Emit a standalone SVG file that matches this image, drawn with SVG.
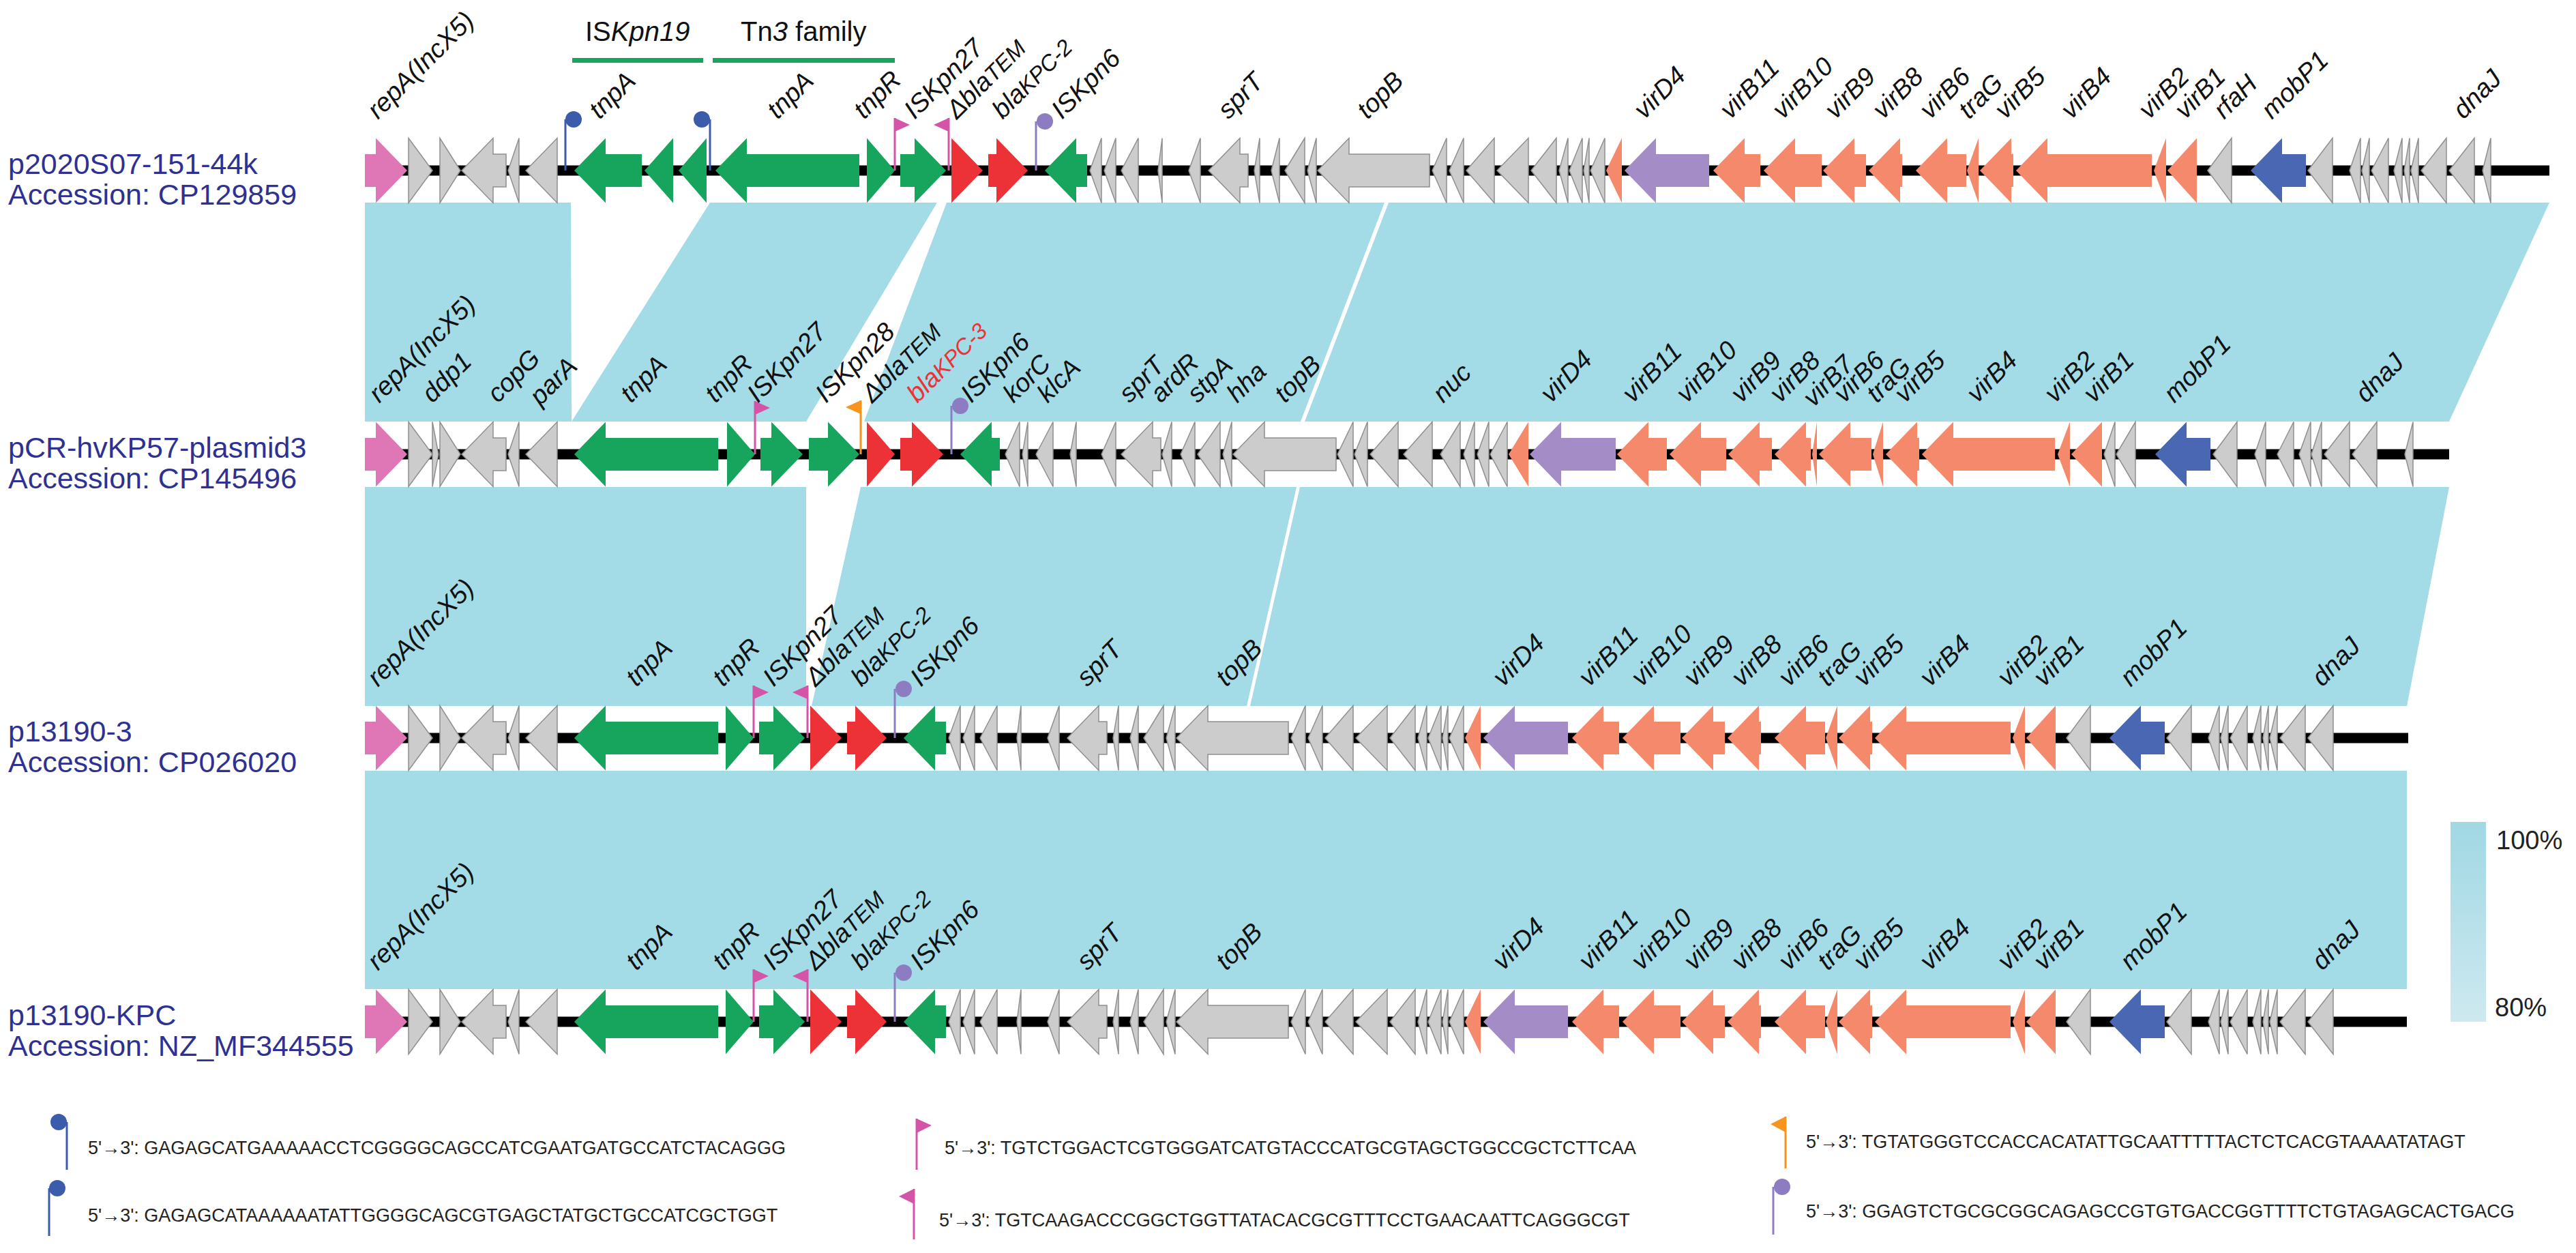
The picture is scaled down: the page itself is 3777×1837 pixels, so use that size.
<svg xmlns="http://www.w3.org/2000/svg" xmlns:xlink="http://www.w3.org/1999/xlink" width="3777" height="1837" viewBox="0 0 3777 1837">
<defs>
<style>
.g{fill:#cccccc;stroke:#8f8f8f;stroke-width:1.5}
.gr{fill:#17a55d}
.rd{fill:#ec3237}
.or{fill:#f5896b}
.pu{fill:#a48dc6}
.bl{fill:#4a67b3}
.pk{fill:#df77b6}
.bb{stroke:#000;stroke-width:15}
.band{fill:#a3dbe7}
.lab{font-family:"Liberation Sans",Arial,sans-serif;font-size:38px;font-style:italic;fill:#111}
.sub{font-size:33px}
.name{font-family:"Liberation Sans",Arial,sans-serif;font-size:43px;fill:#2e3192}
.seq{font-family:"Liberation Sans",Arial,sans-serif;font-size:27px;fill:#222}
.top{font-family:"Liberation Sans",Arial,sans-serif;font-size:40px;fill:#111}
.pct{font-family:"Liberation Sans",Arial,sans-serif;font-size:38px;fill:#222}
.fpk{stroke:#d455a8;stroke-width:3;fill:none}
.fbl{stroke:#3b5bab;stroke-width:3;fill:none}
.for{stroke:#f7941d;stroke-width:3;fill:none}
.fpu{stroke:#8e7cc3;stroke-width:3;fill:none}
</style>
<linearGradient id="idgrad" x1="0" y1="0" x2="0" y2="1">
<stop offset="0" stop-color="#a0d8e4"/>
<stop offset="1" stop-color="#cee9f0"/>
</linearGradient>
<g id="left">
<path class="pk" d="M597 0L551-47.5V-24H535V24H551V47.5Z"/>
<path class="g" d="M634 0L599-47.5V47.5Z M675 0L645-47.5V47.5Z M677 0L723-47.5V-24H742V24H723V47.5Z M745 0L761-47.5V47.5Z M771 0L817-47.5V47.5Z"/>
</g>
<g id="core">
<path class="gr" d="M1049 0L1095-47.5V-24H1260V24H1095V47.5Z M1312 0L1271-47.5V47.5Z M1387 0L1341-47.5V-24H1320V24H1341V47.5Z M1532 0L1578-47.5V-24H1594V24H1578V47.5Z"/>
<path class="rd" d="M1441 0L1395-47.5V47.5Z M1507 0L1461-47.5V-24H1449V24H1461V47.5Z"/>
<path class="g" d="M1598 0L1615-47.5V47.5Z M1619 0L1636-47.5V47.5Z M1644 0L1669-47.5V47.5Z M1698 0L1704-47.5V47.5Z M1743 0L1760-47.5V47.5Z M1772 0L1818-47.5V-24H1830V24H1818V47.5Z M1839 0L1847-47.5V47.5Z M1864 0L1876-47.5V47.5Z M1884 0L1913-47.5V47.5Z M1917 0L1930-47.5V47.5Z M1932 0L1978-47.5V-24H2096V24H1978V47.5Z M2100 0L2121-47.5V47.5Z M2125 0L2146-47.5V47.5Z M2150 0L2191-47.5V47.5Z M2195 0L2241-47.5V47.5Z M2245 0L2282-47.5V47.5Z M2286 0L2299-47.5V47.5Z M2301 0L2320-47.5V47.5Z M2322 0L2330-47.5V47.5Z M2332 0L2353-47.5V47.5Z M3237 0L3272-47.5V47.5Z M3384 0L3420-47.5V47.5Z M3445 0L3461-47.5V47.5Z M3463 0L3474-47.5V47.5Z M3477 0L3502-47.5V47.5Z M3510 0L3522-47.5V47.5Z M3525 0L3533-47.5V47.5Z M3535 0L3546-47.5V47.5Z M3550 0L3587-47.5V47.5Z M3591 0L3628-47.5V47.5Z"/>
<path class="or" d="M2355 0L2378-47.5V47.5Z M2512 0L2558-47.5V-24H2581V24H2558V47.5Z M2586 0L2632-47.5V-24H2671V24H2632V47.5Z M2673 0L2719-47.5V-24H2736V24H2719V47.5Z M2740 0L2786-47.5V-24H2789V24H2786V47.5Z M2809 0L2855-47.5V-24H2883V24H2855V47.5Z M2884 0L2901-47.5V47.5Z M2903 0L2949-47.5V-24H2952V24H2949V47.5Z M2956 0L3002-47.5V-24H3155V24H3002V47.5Z M3158 0L3176-47.5V47.5Z M3178 0L3221-47.5V47.5Z"/>
<path class="pu" d="M2382 0L2428-47.5V-24H2506V24H2428V47.5Z"/>
<path class="bl" d="M3300 0L3346-47.5V-24H3381V24H3346V47.5Z"/>
<path class="fpk" d="M1312 0V-77 M1391 0V-77"/>
<path d="M1312-77L1334-67L1312-57Z M1391-77L1369-67L1391-57Z" fill="#d455a8"/>
<path class="fpu" d="M1519 0V-72"/>
<circle cx="1532" cy="-72" r="12" fill="#8e7cc3"/>
</g>
<g id="lab34">
<text class="lab" transform="translate(554,-74) rotate(-45)">repA(IncX5)</text>
<text class="lab" transform="translate(933,-74) rotate(-45)">tnpA</text>
<text class="lab" transform="translate(1060,-74) rotate(-45)">tnpR</text>
<text class="lab" transform="translate(1134,-74) rotate(-45)">ISKpn27</text>
<text class="lab" transform="translate(1196,-74) rotate(-45)">Δbla<tspan class="sub">TEM</tspan></text>
<text class="lab" transform="translate(1263,-74) rotate(-45)">bla<tspan class="sub">KPC-2</tspan></text>
<text class="lab" transform="translate(1350,-74) rotate(-45)">ISKpn6</text>
<text class="lab" transform="translate(1594,-74) rotate(-45)">sprT</text>
<text class="lab" transform="translate(1798,-74) rotate(-45)">topB</text>
<text class="lab" transform="translate(2204,-74) rotate(-45)">virD4</text>
<text class="lab" transform="translate(2330,-74) rotate(-45)">virB11</text>
<text class="lab" transform="translate(2407,-74) rotate(-45)">virB10</text>
<text class="lab" transform="translate(2484,-74) rotate(-45)">virB9</text>
<text class="lab" transform="translate(2554,-74) rotate(-45)">virB8</text>
<text class="lab" transform="translate(2623,-74) rotate(-45)">virB6</text>
<text class="lab" transform="translate(2680,-74) rotate(-45)">traG</text>
<text class="lab" transform="translate(2733,-74) rotate(-45)">virB5</text>
<text class="lab" transform="translate(2830,-74) rotate(-45)">virB4</text>
<text class="lab" transform="translate(2944,-74) rotate(-45)">virB2</text>
<text class="lab" transform="translate(2997,-74) rotate(-45)">virB1</text>
<text class="lab" transform="translate(3124,-74) rotate(-45)">mobP1</text>
<text class="lab" transform="translate(3405,-74) rotate(-45)">dnaJ</text>
</g>
</defs>
<rect width="3777" height="1837" fill="#ffffff"/>

<g id="connectors">
<polygon class="band" points="535,297 837,297 838,618 535,618"/>
<polygon class="band" points="1041,297 1374,297 1182,618 838,618"/>
<polygon class="band" points="1388,297 2030,297 1907,618 1267,618"/>
<polygon class="band" points="2036,297 3738,297 3591,618 1913,618"/>
<polygon class="band" points="535,714 1182,714 1182,1035 535,1035"/>
<polygon class="band" points="1262,714 1901,714 1828,1035 1190,1035"/>
<polygon class="band" points="1906,714 3591,714 3529,1035 1833,1035"/>
<polygon class="band" points="535,1130 3529,1130 3529,1450 535,1450"/>
</g>

<g id="header">
<text class="top" x="858" y="60">IS<tspan font-style="italic">Kpn19</tspan></text>
<rect x="839" y="85" width="192" height="7" fill="#17a55d"/>
<text class="top" x="1086" y="60">Tn<tspan font-style="italic">3</tspan> family</text>
<rect x="1045" y="85" width="267" height="7" fill="#17a55d"/>
</g>

<g id="track1" transform="translate(0,250)">
<line class="bb" x1="535" y1="0" x2="3738" y2="0"/>
<use xlink:href="#left"/>
<path class="gr" d="M842 0L888-47.5V-24H941V24H888V47.5Z M945 0L987-47.5V47.5Z M995 0L1036-47.5V47.5Z"/>
<path class="fbl" d="M829 0V-75 M1041 0V-75"/>
<circle cx="841" cy="-75" r="12" fill="#3b5bab"/>
<circle cx="1029" cy="-75" r="12" fill="#3b5bab"/>
<use xlink:href="#core"/>
<path class="g" d="M3640 0L3652-47.5V47.5Z"/>
<text class="lab" transform="translate(554,-74) rotate(-45)">repA(IncX5)</text>
<text class="lab" transform="translate(879,-74) rotate(-45)">tnpA</text>
<text class="lab" transform="translate(1140,-74) rotate(-45)">tnpA</text>
<text class="lab" transform="translate(1267,-74) rotate(-45)">tnpR</text>
<text class="lab" transform="translate(1341,-74) rotate(-45)">ISKpn27</text>
<text class="lab" transform="translate(1403,-74) rotate(-45)">Δbla<tspan class="sub">TEM</tspan></text>
<text class="lab" transform="translate(1470,-74) rotate(-45)">bla<tspan class="sub">KPC-2</tspan></text>
<text class="lab" transform="translate(1557,-74) rotate(-45)">ISKpn6</text>
<text class="lab" transform="translate(1801,-74) rotate(-45)">sprT</text>
<text class="lab" transform="translate(2005,-74) rotate(-45)">topB</text>
<text class="lab" transform="translate(2411,-74) rotate(-45)">virD4</text>
<text class="lab" transform="translate(2537,-74) rotate(-45)">virB11</text>
<text class="lab" transform="translate(2614,-74) rotate(-45)">virB10</text>
<text class="lab" transform="translate(2691,-74) rotate(-45)">virB9</text>
<text class="lab" transform="translate(2761,-74) rotate(-45)">virB8</text>
<text class="lab" transform="translate(2830,-74) rotate(-45)">virB6</text>
<text class="lab" transform="translate(2887,-74) rotate(-45)">traG</text>
<text class="lab" transform="translate(2940,-74) rotate(-45)">virB5</text>
<text class="lab" transform="translate(3037,-74) rotate(-45)">virB4</text>
<text class="lab" transform="translate(3151,-74) rotate(-45)">virB2</text>
<text class="lab" transform="translate(3204,-74) rotate(-45)">virB1</text>
<text class="lab" transform="translate(3261,-74) rotate(-45)">rfaH</text>
<text class="lab" transform="translate(3331,-74) rotate(-45)">mobP1</text>
<text class="lab" transform="translate(3612,-74) rotate(-45)">dnaJ</text>
<text class="name" x="12" y="5">p2020S07-151-44k</text>
<text class="name" x="12" y="50">Accession: CP129859</text>
</g>

<g id="track2" transform="translate(0,666)">
<line class="bb" x1="535" y1="0" x2="3591" y2="0"/>
<use xlink:href="#left"/>
<path class="g" d="M643 0L634-47.5V47.5Z"/>
<path class="gr" d="M842 0L888-47.5V-24H1053V24H888V47.5Z M1107 0L1066-47.5V47.5Z M1177 0L1131-47.5V-24H1115V24H1131V47.5Z M1260 0L1214-47.5V-24H1186V24H1214V47.5Z M1408 0L1454-47.5V-24H1466V24H1454V47.5Z"/>
<path class="rd" d="M1312 0L1271-47.5V47.5Z M1383 0L1337-47.5V-24H1320V24H1337V47.5Z"/>
<path class="g" d="M1474 0L1495-47.5V47.5Z M1499 0L1507-47.5V47.5Z M1519 0L1544-47.5V47.5Z M1569 0L1578-47.5V47.5Z M1615 0L1636-47.5V47.5Z M1644 0L1690-47.5V-24H1702V24H1690V47.5Z M1704 0L1718-47.5V47.5Z M1731 0L1752-47.5V47.5Z M1756 0L1789-47.5V47.5Z M1793 0L1806-47.5V47.5Z M1808 0L1854-47.5V-24H1959V24H1854V47.5Z M1961 0L1984-47.5V47.5Z M1986 0L2005-47.5V47.5Z M2009 0L2050-47.5V47.5Z M2058 0L2100-47.5V47.5Z M2112 0L2141-47.5V47.5Z M2146 0L2162-47.5V47.5Z M2166 0L2183-47.5V47.5Z M2185 0L2210-47.5V47.5Z M3085 0L3101-47.5V47.5Z M3103 0L3131-47.5V47.5Z M3245 0L3280-47.5V47.5Z M3306 0L3322-47.5V47.5Z M3339 0L3363-47.5V47.5Z M3371 0L3388-47.5V47.5Z M3389 0L3404-47.5V47.5Z M3408 0L3445-47.5V47.5Z M3449 0L3485-47.5V47.5Z M3526 0L3538-47.5V47.5Z"/>
<path class="or" d="M2212 0L2241-47.5V47.5Z M2371 0L2417-47.5V-24H2444V24H2417V47.5Z M2448 0L2494-47.5V-24H2531V24H2494V47.5Z M2534 0L2580-47.5V-24H2598V24H2580V47.5Z M2602 0L2648-47.5V-24H2655V24H2648V47.5Z M2657 0L2664-47.5V47.5Z M2667 0L2713-47.5V-24H2744V24H2713V47.5Z M2746 0L2761-47.5V47.5Z M2765 0L2811-47.5V-24H2814V24H2811V47.5Z M2818 0L2864-47.5V-24H3013V24H2864V47.5Z M3017 0L3035-47.5V47.5Z M3037 0L3082-47.5V47.5Z"/>
<path class="pu" d="M2243 0L2289-47.5V-24H2369V24H2289V47.5Z"/>
<path class="bl" d="M3160 0L3206-47.5V-24H3241V24H3206V47.5Z"/>
<path class="fpk" d="M1107 0V-78"/>
<path d="M1107-78L1129-68L1107-58Z" fill="#d455a8"/>
<path class="for" d="M1262 0V-79"/>
<path d="M1262-79L1240-69L1262-59Z" fill="#f7941d"/>
<path class="fpu" d="M1395 0V-71"/>
<circle cx="1408" cy="-71" r="12" fill="#8e7cc3"/>
<text class="lab" transform="translate(556,-74) rotate(-45)">repA(IncX5)</text>
<text class="lab" transform="translate(634,-74) rotate(-45)">ddp1</text>
<text class="lab" transform="translate(730,-74) rotate(-45)">copG</text>
<text class="lab" transform="translate(792,-70) rotate(-45)">parA</text>
<text class="lab" transform="translate(925,-74) rotate(-45)">tnpA</text>
<text class="lab" transform="translate(1049,-74) rotate(-45)">tnpR</text>
<text class="lab" transform="translate(1111,-74) rotate(-45)">ISKpn27</text>
<text class="lab" transform="translate(1211,-74) rotate(-45)">ISKpn28</text>
<text class="lab" transform="translate(1279,-74) rotate(-45)">Δbla<tspan class="sub">TEM</tspan></text>
<text class="lab" transform="translate(1345,-74) rotate(-45)" style="fill:#ec3237">bla<tspan class="sub">KPC-3</tspan></text>
<text class="lab" transform="translate(1424,-74) rotate(-45)">ISKpn6</text>
<text class="lab" transform="translate(1486,-74) rotate(-45)">korC</text>
<text class="lab" transform="translate(1536,-74) rotate(-45)">klcA</text>
<text class="lab" transform="translate(1656,-74) rotate(-45)">sprT</text>
<text class="lab" transform="translate(1702,-74) rotate(-45)">ardR</text>
<text class="lab" transform="translate(1756,-74) rotate(-45)">stpA</text>
<text class="lab" transform="translate(1814,-74) rotate(-45)">hha</text>
<text class="lab" transform="translate(1884,-74) rotate(-45)">topB</text>
<text class="lab" transform="translate(2116,-74) rotate(-45)">nuc</text>
<text class="lab" transform="translate(2274,-74) rotate(-45)">virD4</text>
<text class="lab" transform="translate(2394,-74) rotate(-45)">virB11</text>
<text class="lab" transform="translate(2473,-74) rotate(-45)">virB10</text>
<text class="lab" transform="translate(2553,-74) rotate(-45)">virB9</text>
<text class="lab" transform="translate(2610,-74) rotate(-45)">virB8</text>
<text class="lab" transform="translate(2659,-68) rotate(-45)">virB7</text>
<text class="lab" transform="translate(2704,-74) rotate(-45)">virB6</text>
<text class="lab" transform="translate(2752,-74) rotate(-45)">traG</text>
<text class="lab" transform="translate(2793,-74) rotate(-45)">virB5</text>
<text class="lab" transform="translate(2899,-74) rotate(-45)">virB4</text>
<text class="lab" transform="translate(3013,-74) rotate(-45)">virB2</text>
<text class="lab" transform="translate(3070,-74) rotate(-45)">virB1</text>
<text class="lab" transform="translate(3188,-74) rotate(-45)">mobP1</text>
<text class="lab" transform="translate(3469,-74) rotate(-45)">dnaJ</text>
<text class="name" x="12" y="5">pCR-hvKP57-plasmid3</text>
<text class="name" x="12" y="50">Accession: CP145496</text>
</g>

<g id="track3" transform="translate(0,1082)">
<line class="bb" x1="535" y1="0" x2="3531" y2="0"/>
<use xlink:href="#left"/>
<use xlink:href="#core" x="-207"/>
<use xlink:href="#lab34"/>
<text class="name" x="12" y="5">p13190-3</text>
<text class="name" x="12" y="50">Accession: CP026020</text>
</g>

<g id="track4" transform="translate(0,1498)">
<line class="bb" x1="535" y1="0" x2="3529" y2="0"/>
<use xlink:href="#left"/>
<use xlink:href="#core" x="-207"/>
<use xlink:href="#lab34"/>
<text class="name" x="12" y="5">p13190-KPC</text>
<text class="name" x="12" y="50">Accession: NZ_MF344555</text>
</g>

<g id="identity-scale">
<rect x="3593" y="1205" width="52" height="293" fill="url(#idgrad)"/>
<text class="pct" x="3660" y="1245">100%</text>
<text class="pct" x="3658" y="1490">80%</text>
</g>

<g id="legend">
<g id="leg-ir1">
<path class="fbl" d="M98 1645V1715"/>
<circle cx="86" cy="1645" r="12" fill="#3b5bab"/>
<text class="seq" x="129" y="1692">5'→3': GAGAGCATGAAAAACCTCGGGGCAGCCATCGAATGATGCCATCTACAGGG</text>
</g>
<g id="leg-ir2">
<path class="fbl" d="M72 1742V1812"/>
<circle cx="84" cy="1742" r="12" fill="#3b5bab"/>
<text class="seq" x="129" y="1791">5'→3': GAGAGCATAAAAAATATTGGGGCAGCGTGAGCTATGCTGCCATCGCTGGT</text>
</g>
<g id="leg-ir3">
<path class="fpk" d="M1344 1640V1715"/>
<path d="M1344 1640L1366 1650L1344 1661Z" fill="#d455a8"/>
<text class="seq" x="1385" y="1692">5'→3': TGTCTGGACTCGTGGGATCATGTACCCATGCGTAGCTGGCCGCTCTTCAA</text>
</g>
<g id="leg-ir4">
<path class="fpk" d="M1340 1743V1817"/>
<path d="M1340 1743L1318 1754L1340 1765Z" fill="#d455a8"/>
<text class="seq" x="1377" y="1798">5'→3': TGTCAAGACCCGGCTGGTTATACACGCGTTTCCTGAACAATTCAGGGCGT</text>
</g>
<g id="leg-ir5">
<path class="for" d="M2618 1637V1713"/>
<path d="M2618 1637L2596 1648L2618 1660Z" fill="#f7941d"/>
<text class="seq" x="2648" y="1683">5'→3': TGTATGGGTCCACCACATATTGCAATTTTTACTCTCACGTAAAATATAGT</text>
</g>
<g id="leg-ir6">
<path class="fpu" d="M2600 1740V1810"/>
<circle cx="2613" cy="1740" r="12" fill="#8e7cc3"/>
<text class="seq" x="2648" y="1785">5'→3': GGAGTCTGCGCGGCAGAGCCGTGTGACCGGTTTTCTGTAGAGCACTGACG</text>
</g>
</g>
</svg>
